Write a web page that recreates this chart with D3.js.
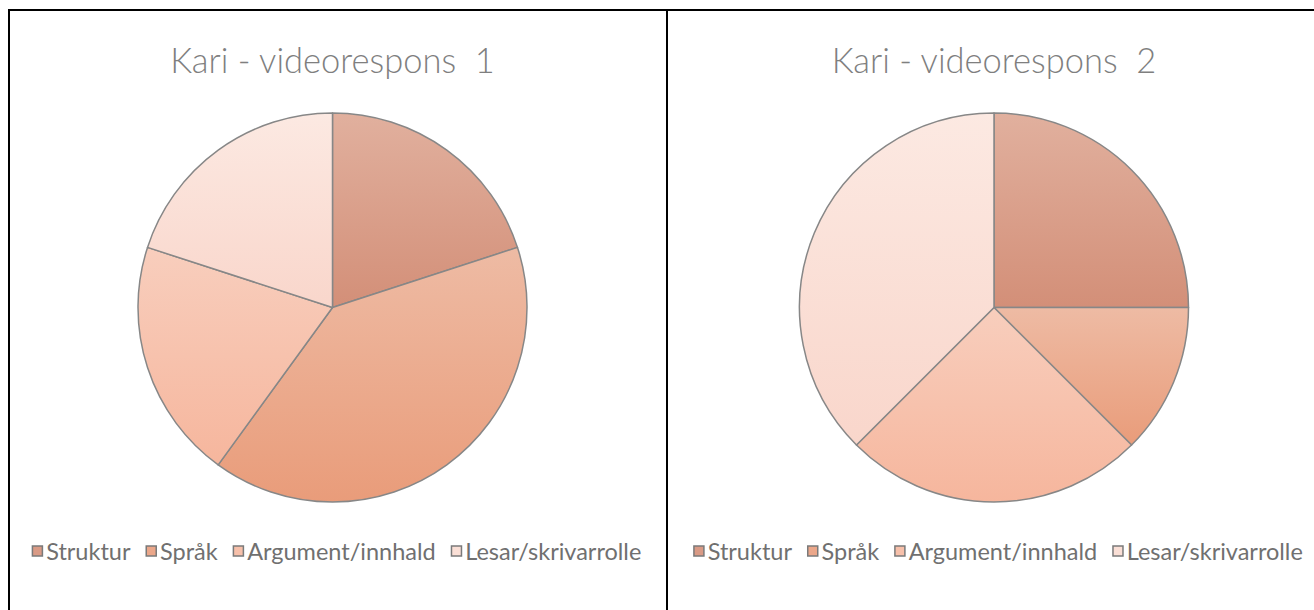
<!DOCTYPE html>
<html>
<head>
<meta charset="utf-8">
<script src="https://cdn.jsdelivr.net/npm/d3@7"></script>
<style>
  html, body { margin: 0; padding: 0; background: #fff; }
  svg { display: block; font-family: Lato, "Open Sans", sans-serif; }
</style>
</head>
<body>
<svg id="chart" width="1314" height="610"></svg>
<script>
// categories and values
const categories = ['Struktur', 'Språk', 'Argument/innhald', 'Lesar/skrivarrolle'];
const titles = ['Kari - videorespons  1', 'Kari - videorespons  2'];
const values1 = [1, 2, 1, 1];
const values2 = [2, 1, 2, 3];

// slice gradient colours (top, bottom) and legend swatch colours
const gradTop = ['#e1b09e', '#eebba4', '#f8cebd', '#fce9e2'];
const gradBottom = ['#d38f78', '#e99c7a', '#f6b69d', '#f9d6cb'];
const swatch = ['#d99a85', '#eba78a', '#f7c0aa', '#fadfd6'];

const svg = d3.select('#chart');
const defs = svg.append('defs');

categories.forEach((c, i) => {
  const g = defs.append('linearGradient')
    .attr('id', 'grad' + i)
    .attr('x1', 0).attr('y1', 0)
    .attr('x2', 0).attr('y2', 1);
  g.append('stop').attr('offset', '0%').attr('stop-color', gradTop[i]);
  g.append('stop').attr('offset', '100%').attr('stop-color', gradBottom[i]);
});

const color = d3.scaleOrdinal().domain(categories).range(d3.range(categories.length));

// frame lines
svg.append('path')
  .attr('d', 'M9,610 V10 H1314 M667,10 V610')
  .attr('fill', 'none')
  .attr('stroke', '#000')
  .attr('stroke-width', 2);

const panels = [
  {cx: 332.5, values: values1, title: titles[0]},
  {cx: 994, values: values2, title: titles[1]}
];

const radius = 194.5;
const cy = 307.5;

const pie = d3.pie().sort(null).value(d => d.value);
const arc = d3.arc().innerRadius(0).outerRadius(radius);

panels.forEach(p => {
  const data = categories.map((c, i) => ({cat: c, value: p.values[i]}));

  const g = svg.append('g');

  g.append('text')
    .attr('x', p.cx)
    .attr('y', 73)
    .attr('text-anchor', 'middle')
    .attr('fill', '#7f7f7f')
    .style('font-size', '34.5px')
    .style('font-weight', 300)
    .style('white-space', 'pre')
    .text(p.title);

  g.append('g')
    .attr('transform', `translate(${p.cx},${cy})`)
    .selectAll('path')
    .data(pie(data))
    .join('path')
      .attr('d', arc)
      .attr('fill', d => `url(#grad${color(d.data.cat)})`)
      .attr('stroke', '#878787')
      .attr('stroke-width', 1.5)
      .attr('stroke-linejoin', 'round');

  // legend, laid out from measured text widths then centred
  const leg = g.append('g');
  let x = 0;
  const gap = 15;
  categories.forEach((c, i) => {
    const item = leg.append('g').attr('transform', `translate(${x},0)`);
    item.append('rect')
      .attr('x', 0.75).attr('y', -6)
      .attr('width', 10).attr('height', 10)
      .attr('fill', swatch[i])
      .attr('stroke', '#7a7a7a')
      .attr('stroke-width', 1.5);
    const t = item.append('text')
      .attr('x', 14.5)
      .attr('y', 8)
      .attr('fill', '#707070')
      .style('font-size', '23.5px')
      .text(c);
    x += 14.5 + t.node().getComputedTextLength() + gap;
  });
  const total = x - gap;
  leg.attr('transform', `translate(${p.cx + 4 - total / 2},552)`);
});
</script>
</body>
</html>
